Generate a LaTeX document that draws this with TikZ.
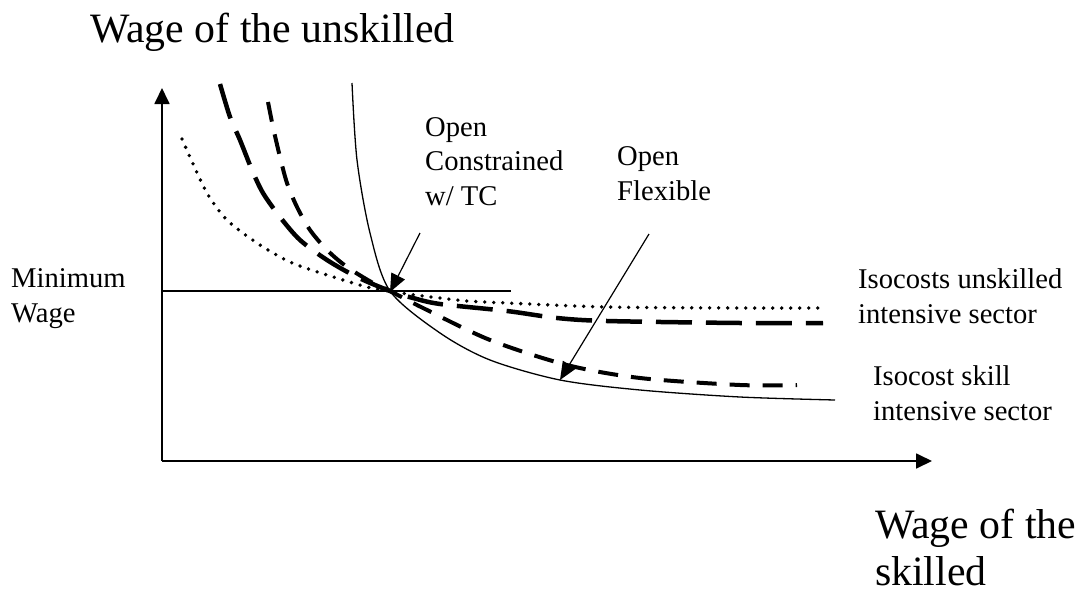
\documentclass[tikz,border=0pt]{standalone}
\usepackage{fontspec}
\setmainfont{Liberation Serif}
\usetikzlibrary{arrows.meta}

\begin{document}
\begin{tikzpicture}[x=1pt, y=-1pt,
    axis/.style={line width=1.8pt, -{Triangle[length=16pt,width=15pt]}},
    pointer/.style={line width=1.2pt, -{Triangle[length=18pt,width=15pt]}},
    small/.style={font=\fontsize{28.6}{34.5}\selectfont, inner sep=0, anchor=base west, align=left},
    big/.style={font=\fontsize{41.8}{47}\selectfont, inner sep=0, anchor=base west, align=left},
    solidcurve/.style={line width=1.3pt},
    shortdash/.style={line width=4pt, dash pattern=on 20pt off 13pt},
    longdash/.style={line width=4.5pt, dash pattern=on 36pt off 14pt},
    dotcurve/.style={line width=3.8pt, line cap=round, dash pattern=on 0pt off 9pt}]
    \useasboundingbox (0,0) rectangle (1080,592);
    % Axes
    \coordinate (O) at (162,461);
    \coordinate (ytop) at (162,88);
    \coordinate (xend) at (932,461);
    \draw[axis] (O) -- (ytop);
    \draw[axis] (O) -- (xend);
    \node[big] (ylabel) at (90,42) {Wage of the unskilled};
    \node[big] (xlabel) at (875,585) {Wage of the\\skilled};
    % Minimum wage
    \coordinate (mw-start) at (162,291);
    \coordinate (mw-end) at (511,291);
    \draw[line width=1.3pt] (mw-start) -- (mw-end);
    \node[small] (minwage) at (11,322) {Minimum\\Wage};
    % Isocosts
    \draw[solidcurve] plot[smooth] coordinates {(352,83) (357,160) (370,233) (390,291)
        (440,333) (490,360) (560,380) (640,390) (740,397) (835,400)};
    \draw[shortdash] plot[smooth] coordinates {(268,102) (273,127) (280,157) (287,183)
        (297,207) (310,230) (327,250) (347,267) (373,283) (390,291) (423,308) (490,340)
        (567,365) (640,378) (740,385) (797,385)};
    \draw[longdash] plot[smooth] coordinates {(220,84) (230,117) (240,140) (252,170)
        (263,193) (280,217) (300,240) (327,260) (357,277) (390,291) (413,298) (440,304)
        (507,311) (557,318) (607,321) (740,323) (823,323)};
    \draw[dotcurve] plot[smooth] coordinates {(182,139) (190,157) (207,193) (227,220)
        (257,243) (290,262) (327,275) (367,287) (390,291) (407,294) (440,298) (467,301)
        (507,303) (607,307) (740,308) (818,308)};
    \node[small] (unskilllabel) at (858,323) {Isocosts unskilled\\intensive sector};
    \node[small] (skilllabel) at (873,420) {Isocost skill\\intensive sector};
    % Pointers
    \node[small] (tclabel) at (425,205) {Open\\Constrained\\w/ TC};
    \node[small] (flexlabel) at (617,200) {Open\\Flexible};
    \coordinate (tc-start) at (420,233);
    \coordinate (tc-tip) at (390,292);
    \coordinate (flex-start) at (649,234);
    \coordinate (flex-tip) at (560,380);
    \draw[pointer] (tc-start) -- (tc-tip);
    \draw[pointer] (flex-start) -- (flex-tip);
\end{tikzpicture}
\end{document}
